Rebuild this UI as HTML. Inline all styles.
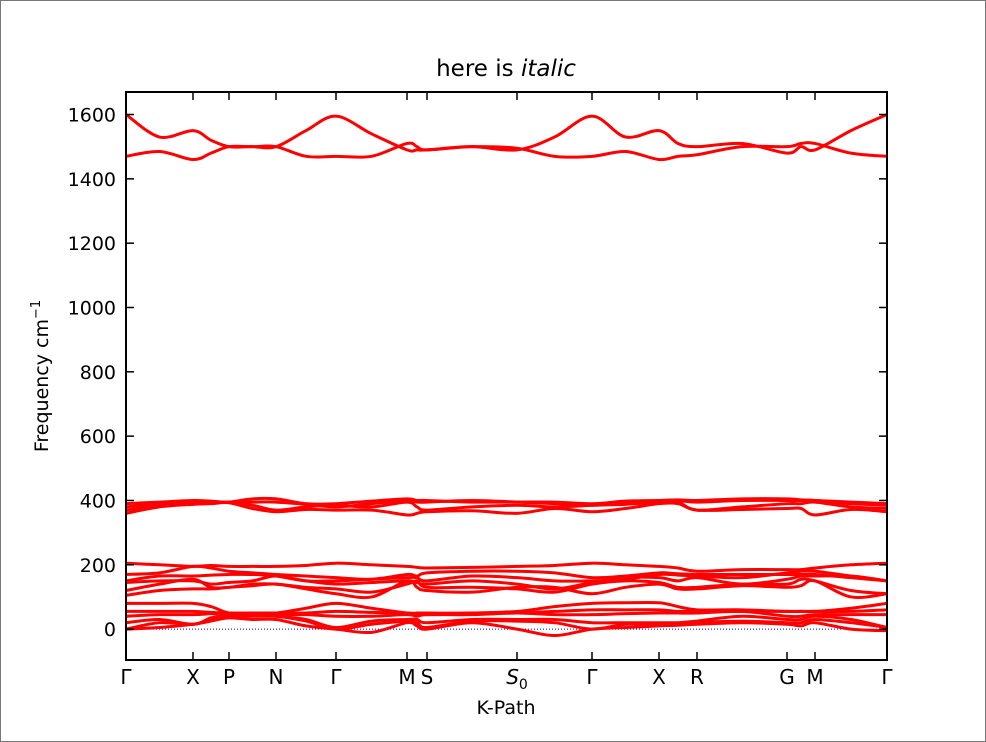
<!DOCTYPE html>
<html><head><meta charset="utf-8"><style>
body{margin:0;background:#fff}
svg{display:block;font-family:"DejaVu Sans","Liberation Sans",sans-serif}
</style></head><body>
<svg id="c" width="986" height="742">
<rect x="0.5" y="0.5" width="985" height="741" fill="#fff" stroke="#777"/>
<text x="506" y="76" font-size="23" text-anchor="middle">here is <tspan font-style="italic">italic</tspan></text>
<g id="plot"></g>
<text x="506" y="714" font-size="19" text-anchor="middle">K-Path</text>
<text transform="translate(48,376) rotate(-90)" font-size="19" text-anchor="middle">Frequency cm<tspan dy="-8" font-size="13">−1</tspan></text>
</svg>
<script>
const tickLabels=["Γ","X","P","N","Γ","M","S","S0","Γ","X","R","G","M","Γ"];
const tickK=[0,0.67,1.03,1.50,2.10,2.81,3.01,3.91,4.66,5.33,5.71,6.61,6.89,7.61];
const yTicks=[0,200,400,600,800,1000,1200,1400,1600];
const bands=[
[1600,1530,1550,1520,1500,1500,1500,1550,1595,1540,1490,1490,1490,1500,1490,1530,1595,1530,1550,1510,1500,1510,1480,1500,1490,1550,1600],
[1470,1485,1460,1480,1500,1500,1500,1470,1470,1470,1510,1500,1490,1500,1495,1470,1470,1485,1460,1470,1475,1500,1500,1510,1510,1480,1470],
[390,395,400,398,395,405,405,390,390,398,405,400,400,395,395,395,390,398,400,402,400,405,405,402,400,395,390],
[380,390,395,395,395,395,395,388,380,390,400,395,395,400,395,390,385,392,400,400,395,400,400,400,400,390,385],
[370,385,390,393,395,385,370,380,385,380,395,380,370,380,385,380,385,388,395,395,370,380,390,390,395,380,375],
[360,380,388,390,393,375,365,372,370,370,355,360,365,368,360,375,365,375,390,390,370,372,375,375,355,372,365],
[205,200,195,198,195,195,195,198,205,200,195,192,190,192,195,198,205,200,195,190,180,185,185,185,190,200,205],
[170,175,195,190,180,175,170,165,160,155,170,165,175,180,180,175,160,165,175,172,170,170,170,170,170,160,150],
[150,165,165,168,170,170,165,150,150,155,160,160,150,165,160,150,150,155,170,168,165,160,175,180,180,165,150],
[145,150,150,140,145,150,165,150,140,145,150,145,140,150,140,125,145,160,160,150,160,140,155,165,165,165,150],
[120,140,155,130,130,140,140,130,125,115,140,150,130,130,125,115,140,150,145,130,130,140,140,155,150,120,110],
[105,120,125,125,130,135,140,125,110,100,150,130,120,115,130,130,110,130,140,125,125,135,130,135,150,100,110],
[80,80,80,70,50,50,50,65,80,65,50,50,50,50,55,70,80,82,82,70,60,60,55,55,55,65,80],
[55,55,55,52,50,50,50,50,55,52,50,48,45,50,50,55,60,60,60,55,55,55,55,55,55,55,60],
[40,45,45,48,50,48,45,45,40,40,45,40,45,45,50,45,45,48,50,50,50,55,40,40,45,45,45],
[20,30,15,35,45,42,40,30,5,25,30,30,20,30,30,30,20,20,20,20,25,40,30,30,40,30,5],
[0,20,15,30,40,40,40,25,0,15,25,20,5,25,25,20,0,15,15,15,20,25,20,20,30,20,5],
[0,5,15,25,35,30,30,10,0,-10,20,10,0,20,0,-20,0,5,10,12,15,20,15,10,20,0,-5]
];
const L=126,R=887,T=92,B=660,yMin=-96,yMax=1670;
const sx=k=>L+(k-tickK[0])/(tickK[tickK.length-1]-tickK[0])*(R-L);
const sy=v=>B-(v-yMin)/(yMax-yMin)*(B-T);
const NS="http://www.w3.org/2000/svg";
const g=document.getElementById('plot');
function mk(t,a){const e=document.createElementNS(NS,t);for(const k in a)e.setAttribute(k,a[k]);g.appendChild(e);return e;}
const ks=[];for(let i=0;i<tickK.length;i++){ks.push(tickK[i]);if(i<tickK.length-1)ks.push((tickK[i]+tickK[i+1])/2);}
const clip=mk('clipPath',{id:'cp'});const cr=document.createElementNS(NS,'rect');cr.setAttribute('x',L);cr.setAttribute('y',T);cr.setAttribute('width',R-L);cr.setAttribute('height',B-T);clip.appendChild(cr);
let z=mk('line',{x1:L,x2:R,y1:sy(0),y2:sy(0),stroke:'#00f','stroke-width':1,'stroke-dasharray':'1,2'});


bands.forEach((b,bi)=>{
  const p=b.map((v,i)=>[sx(ks[i]),sy(v)]);
  let d='M'+p[0][0]+','+p[0][1];
  for(let i=0;i<p.length-1;i++){
    const p0=p[Math.max(0,i-1)],p1=p[i],p2=p[i+1],p3=p[Math.min(p.length-1,i+2)];
    const c1x=p1[0]+(p2[0]-p0[0])/6,c1y=p1[1]+(p2[1]-p0[1])/6;
    const c2x=p2[0]-(p3[0]-p1[0])/6,c2y=p2[1]-(p3[1]-p1[1])/6;
    d+=` C${c1x},${c1y} ${c2x},${c2y} ${p2[0]},${p2[1]}`;
  }
  const e=mk('path',{d:d,fill:'none',stroke:'#f00','stroke-width':3,'clip-path':'url(#cp)'});
  
  
});
const fr=mk('rect',{x:L,y:T,width:R-L,height:B-T,fill:'none',stroke:'#000','stroke-width':2});


yTicks.forEach(v=>{
  const y=sy(v);
  mk('line',{x1:L,x2:L+8,y1:y,y2:y,stroke:'#000','stroke-width':1.5});
  mk('line',{x1:R,x2:R-8,y1:y,y2:y,stroke:'#000','stroke-width':1.5});
  const t=mk('text',{x:L-10,y:y+7,'font-size':19,'text-anchor':'end'});t.textContent=v;
  
  
});
tickK.forEach((k,i)=>{
  const x=sx(k);
  mk('line',{x1:x,x2:x,y1:B,y2:B-8,stroke:'#000','stroke-width':1.5});
  mk('line',{x1:x,x2:x,y1:T,y2:T+8,stroke:'#000','stroke-width':1.5});
  const t=mk('text',{x:x,y:B+24,'font-size':20,'text-anchor':'middle'});
  if(tickLabels[i]==='S0'){t.innerHTML='<tspan font-style="italic">S</tspan><tspan dy="5" font-size="14">0</tspan>';}
  else t.textContent=tickLabels[i];
  
  
});
</script>
</body></html>
